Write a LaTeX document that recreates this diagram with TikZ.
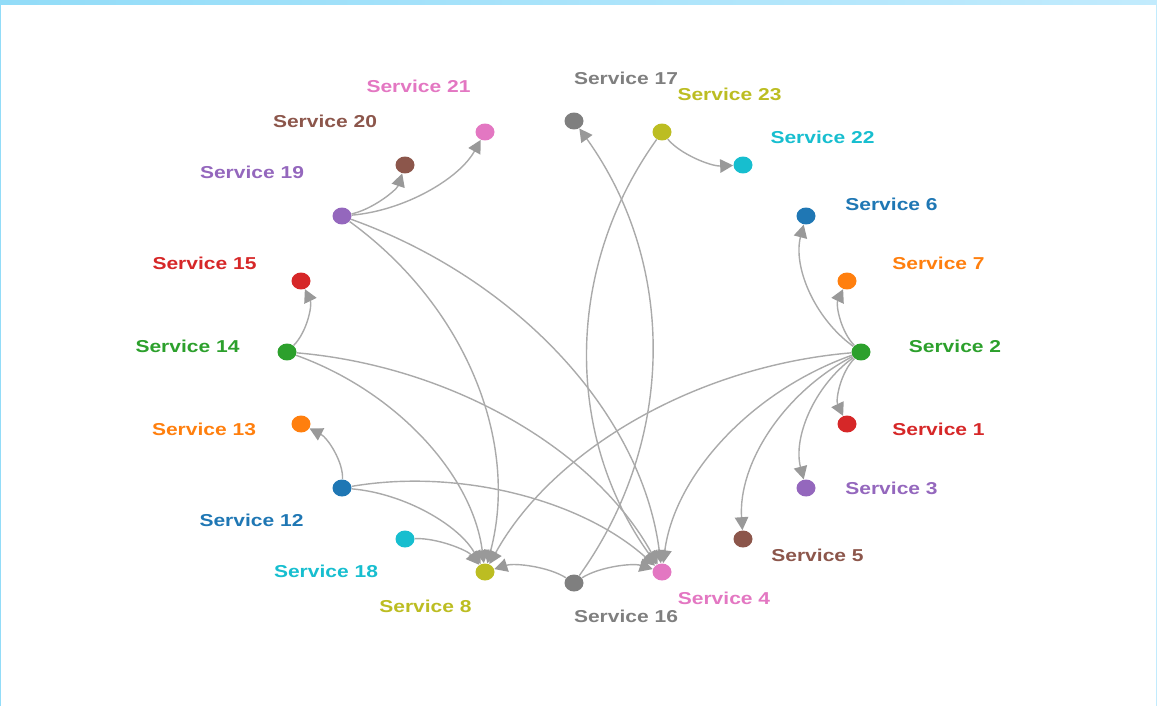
\documentclass[tikz,border=0pt]{standalone}
\usepackage{fontspec}
\newfontfamily\labfont[FakeStretch=1.22]{Liberation Sans}
\usetikzlibrary{arrows.meta,shapes.geometric,calc}
\definecolor{cblue}{HTML}{1F77B4}
\definecolor{corange}{HTML}{FF7F0E}
\definecolor{cgreen}{HTML}{2CA02C}
\definecolor{cred}{HTML}{D62728}
\definecolor{cpurple}{HTML}{9467BD}
\definecolor{cbrown}{HTML}{8C564B}
\definecolor{cpink}{HTML}{E377C2}
\definecolor{cgrey}{HTML}{7F7F7F}
\definecolor{colive}{HTML}{BCBD22}
\definecolor{ccyan}{HTML}{17BECF}
\definecolor{linkgrey}{HTML}{AAAAAA}
\definecolor{arrowgrey}{HTML}{999999}
\definecolor{frameL}{HTML}{92DCF8}
\definecolor{frameR}{HTML}{C2EBFD}
\tikzset{
  dot/.style={ellipse, inner sep=0pt, minimum width=0.38cm, minimum height=0.34cm, draw=none},
  lab/.style={font=\labfont\bfseries\fontsize{9.8}{11}\selectfont, inner sep=0pt},
  link/.style={draw=linkgrey, line width=0.8pt, -{Triangle[length=0.26cm,width=0.27cm,color=arrowgrey]}},
}
% arc link: #1 source, #2 target, #3 = 1 (bend right) or -1 (bend left)
\newcommand\lnk[3]{%
  \draw[link] let \p1=(#1.center), \p2=(#2.center) in
    (#1) .. controls
      ({\x1+0.3094*(\x2-\x1)+(#3)*0.2219*(\y2-\y1)},{\y1-(#3)*0.1438*(\x2-\x1)+0.3094*(\y2-\y1)})
    and
      ({\x2-0.3094*(\x2-\x1)+(#3)*0.2219*(\y2-\y1)},{\y2-(#3)*0.1438*(\x2-\x1)-0.3094*(\y2-\y1)})
    .. (#2);}
\begin{document}
\begin{tikzpicture}[x=0.02cm,y=-0.02cm]
\useasboundingbox (0,0) rectangle (1157,706);
% frame
\shade[left color=frameL, right color=frameR] (0,0) rectangle (1157,4.5);
\draw[frameL, line width=0.6pt] (0.5,4.5) -- (0.5,706);
\draw[frameR, line width=0.6pt] (1156.5,4.5) -- (1156.5,706);
% nodes
\node[dot, fill=cpink]   (s21) at (485,132) {};
\node[dot, fill=cgrey]   (s17) at (574,121) {};
\node[dot, fill=colive]  (s23) at (662,132) {};
\node[dot, fill=ccyan]   (s22) at (743,165) {};
\node[dot, fill=cblue]   (s6)  at (806,216) {};
\node[dot, fill=corange] (s7)  at (847,281) {};
\node[dot, fill=cgreen]  (s2)  at (861,352) {};
\node[dot, fill=cred]    (s1)  at (847,424) {};
\node[dot, fill=cpurple] (s3)  at (806,488) {};
\node[dot, fill=cbrown]  (s5)  at (743,539) {};
\node[dot, fill=cpink]   (s4)  at (662,572) {};
\node[dot, fill=cgrey]   (s16) at (574,583) {};
\node[dot, fill=colive]  (s8)  at (485,572) {};
\node[dot, fill=ccyan]   (s18) at (405,539) {};
\node[dot, fill=cblue]   (s12) at (342,488) {};
\node[dot, fill=corange] (s13) at (301,424) {};
\node[dot, fill=cgreen]  (s14) at (287,352) {};
\node[dot, fill=cred]    (s15) at (301,281) {};
\node[dot, fill=cpurple] (s19) at (342,216) {};
\node[dot, fill=cbrown]  (s20) at (405,165) {};
% labels
\node[lab, text=cpink]   (l21) at (418.5,86)  {Service 21};
\node[lab, text=cgrey]   (l17) at (626,78)    {Service 17};
\node[lab, text=colive]  (l23) at (729.5,94.5){Service 23};
\node[lab, text=ccyan]   (l22) at (822.5,137) {Service 22};
\node[lab, text=cblue]   (l6)  at (891.5,204) {Service 6};
\node[lab, text=corange] (l7)  at (938.5,263.5) {Service 7};
\node[lab, text=cgreen]  (l2)  at (955,346)   {Service 2};
\node[lab, text=cred]    (l1)  at (938.5,429.5) {Service 1};
\node[lab, text=cpurple] (l3)  at (891.5,488.5) {Service 3};
\node[lab, text=cbrown]  (l5)  at (817.5,555.5) {Service 5};
\node[lab, text=cpink]   (l4)  at (724,598)   {Service 4};
\node[lab, text=cgrey]   (l16) at (626,616)   {Service 16};
\node[lab, text=colive]  (l8)  at (425.5,606.5) {Service 8};
\node[lab, text=ccyan]   (l18) at (326,571)   {Service 18};
\node[lab, text=cblue]   (l12) at (251.5,520) {Service 12};
\node[lab, text=corange] (l13) at (204,429.5) {Service 13};
\node[lab, text=cgreen]  (l14) at (187.5,346.5) {Service 14};
\node[lab, text=cred]    (l15) at (204.5,263.5) {Service 15};
\node[lab, text=cpurple] (l19) at (252,172)   {Service 19};
\node[lab, text=cbrown]  (l20) at (325,121)   {Service 20};
% links
\lnk{s19}{s20}{1}
\lnk{s19}{s21}{1}
\lnk{s19}{s8}{-1}
\lnk{s19}{s4}{-1}
\lnk{s23}{s22}{1}
\lnk{s23}{s4}{1}
\lnk{s16}{s17}{1}
\lnk{s16}{s8}{1}
\lnk{s16}{s4}{-1}
\lnk{s2}{s6}{-1}
\lnk{s2}{s7}{-1}
\lnk{s2}{s1}{1}
\lnk{s2}{s3}{1}
\lnk{s2}{s5}{1}
\lnk{s2}{s4}{1}
\lnk{s2}{s8}{1}
\lnk{s14}{s15}{1}
\lnk{s14}{s8}{-1}
\lnk{s14}{s4}{-1}
\lnk{s12}{s13}{1}
\lnk{s12}{s8}{-1}
\lnk{s12}{s4}{-1}
\lnk{s18}{s8}{-1}
\end{tikzpicture}
\end{document}
